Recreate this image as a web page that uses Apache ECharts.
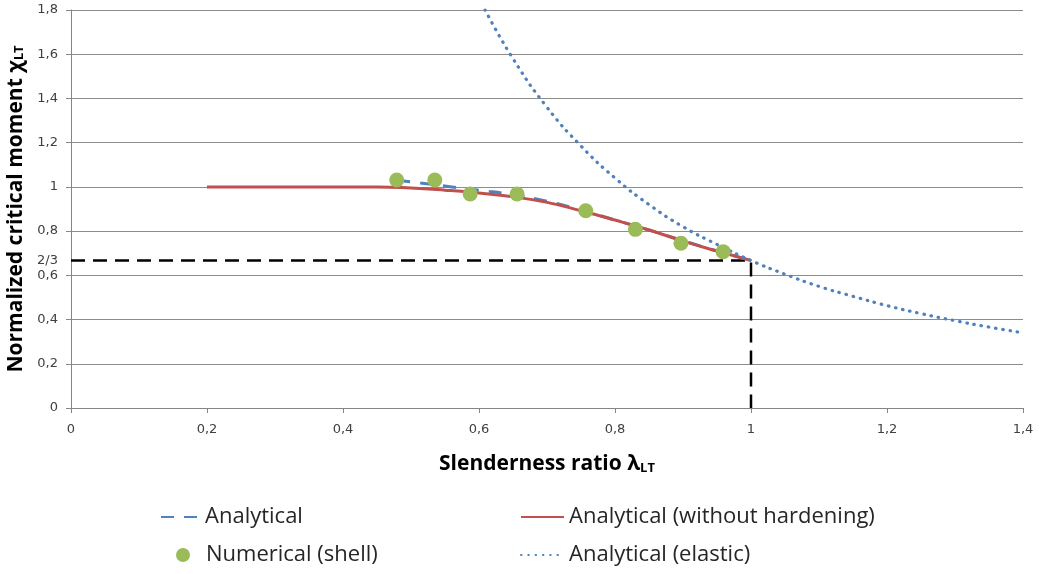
<!DOCTYPE html>
<html>
<head>
<meta charset="utf-8">
<script src="https://cdn.jsdelivr.net/npm/echarts@6/dist/echarts.min.js"></script>
<style>html,body{margin:0;padding:0;background:#fff}#c{width:1040px;height:574px}</style>
</head>
<body>
<div id="c"></div>
<script>
// ---- data ----
const xTicks = ['0', '0,2', '0,4', '0,6', '0,8', '1', '1,2', '1,4'];
const yTicks = ['0', '0,2', '0,4', '0,6', '0,8', '1', '1,2', '1,4', '1,6', '1,8'];
const yExtraLabel = {value: 0.6667, text: '2/3'};

const analytical = [[0.48,1.03],[0.52,1.015],[0.56,1.0],[0.6,0.985],[0.65,0.965],[0.7,0.935],[0.75,0.895],[0.8,0.85],[0.85,0.805],[0.9,0.757],[0.95,0.71],[1.0,0.667]];
const analyticalNoHardening = [[0.2,1.0],[0.3,1.0],[0.4,1.0],[0.45,1.0],[0.5,0.995],[0.55,0.985],[0.6,0.972],[0.65,0.955],[0.7,0.93],[0.75,0.892],[0.8,0.85],[0.85,0.805],[0.9,0.755],[0.95,0.71],[1.0,0.667]];
const numericalShell = [[0.479,1.031],[0.535,1.031],[0.587,0.968],[0.656,0.968],[0.757,0.892],[0.830,0.808],[0.897,0.745],[0.959,0.707]];
const analyticalElastic = [[0.609,1.8],[0.65,1.58],[0.7,1.36],[0.75,1.185],[0.8,1.04],[0.85,0.92],[0.9,0.82],[0.95,0.74],[1.0,0.667],[1.05,0.605],[1.1,0.55],[1.15,0.505],[1.2,0.463],[1.25,0.427],[1.3,0.395],[1.35,0.366],[1.4,0.34]];
const refLines = [[0,0.6667],[1,0.6667],[1,0]];

const chart = echarts.init(document.getElementById('c'));
const fmt = (arr) => (v) => {
  const i = Math.round(v / 0.2);
  if (Math.abs(v - yExtraLabel.value) < 0.01) return yExtraLabel.text;
  return arr[i] !== undefined ? arr[i] : '';
};
const lblColor = '#404040';
const axisColor = '#868686';
const font = 'DejaVu Sans, sans-serif';
const tfont = 'Open Sans, sans-serif';

const legendBase = {
  orient: 'horizontal',
  padding: 0,
  textStyle: {fontSize: 22, color: '#262626', fontFamily: tfont},
  itemHeight: 12,
  itemStyle: {opacity: 0},
  selectedMode: false
};

chart.setOption({
  animation: false,
  backgroundColor: '#fff',
  grid: {left: 71, right: 17, top: 10, bottom: 166, containLabel: false, outerBoundsMode: 'none'},
  xAxis: {
    type: 'value', min: 0, max: 1.4, interval: 0.2,
    name: '{a|Slenderness ratio λ}{b|LT}',
    nameLocation: 'middle', nameGap: 46,
    nameTextStyle: {
      rich: {
        a: {fontSize: 21, fontWeight: 'bold', color: '#000', fontFamily: tfont},
        b: {fontSize: 13, fontWeight: 'bold', color: '#000', fontFamily: tfont, padding: [7,0,0,0]}
      }
    },
    axisLine: {show: true, lineStyle: {color: axisColor, width: 1}},
    axisTick: {show: true, length: 5, lineStyle: {color: axisColor}},
    axisLabel: {color: lblColor, fontSize: 13, fontFamily: font, margin: 15, formatter: fmt(xTicks)},
    splitLine: {show: false}
  },
  yAxis: {
    type: 'value', min: 0, max: 1.8, interval: 0.2,
    name: '{a|Normalized critical moment χ}{b|LT}',
    nameLocation: 'middle', nameGap: 44, nameRotate: 90,
    nameTextStyle: {
      rich: {
        a: {fontSize: 21, fontWeight: 'bold', color: '#000', fontFamily: tfont},
        b: {fontSize: 13, fontWeight: 'bold', color: '#000', fontFamily: tfont, padding: [7,0,0,0]}
      }
    },
    axisLine: {show: true, lineStyle: {color: axisColor, width: 1}},
    axisTick: {show: true, length: 5, lineStyle: {color: axisColor}},
    axisLabel: {
      color: lblColor, fontSize: 13, fontFamily: font, margin: 13,
      customValues: [0,0.2,0.4,0.6,0.8,1.0,1.2,1.4,1.6,1.8,yExtraLabel.value],
      formatter: fmt(yTicks)
    },
    splitLine: {show: true, lineStyle: {color: '#8c8c8c', width: 1}}
  },
  legend: [
    Object.assign({}, legendBase, {data: ['Analytical'], left: 160, top: 506, itemWidth: 39}),
    Object.assign({}, legendBase, {data: ['Analytical (without hardening)'], left: 520, top: 506, itemWidth: 43}),
    Object.assign({}, legendBase, {data: [{name: 'Numerical (shell)', icon: 'circle'}], left: 176, top: 544, itemWidth: 14, itemHeight: 14, itemStyle: {opacity: 1}, textStyle: Object.assign({}, legendBase.textStyle, {padding: [0,0,0,11]})}),
    Object.assign({}, legendBase, {data: ['Analytical (elastic)'], left: 520, top: 544, itemWidth: 43})
  ],
  series: [
    {
      name: 'ref', type: 'line', data: refLines, symbol: 'none', silent: true,
      lineStyle: {color: '#000', width: 2.5, type: [14, 8]}, z: 1
    },
    {
      name: 'Analytical', type: 'line', data: analytical, symbol: 'none', smooth: true,
      lineStyle: {color: '#4f81bd', width: 3, type: [13, 10]}, itemStyle: {color: '#4f81bd'}, z: 2
    },
    {
      name: 'Analytical (without hardening)', type: 'line', data: analyticalNoHardening, symbol: 'none', smooth: true,
      lineStyle: {color: '#c0504d', width: 3}, itemStyle: {color: '#c0504d'}, z: 3
    },
    {
      name: 'Analytical (elastic)', type: 'line', data: analyticalElastic, symbol: 'none', smooth: true,
      lineStyle: {color: '#4f81bd', width: 3.2, type: [0.5, 6.8], cap: 'round'}, itemStyle: {color: '#4f81bd'}, z: 4
    },
    {
      name: 'Numerical (shell)', type: 'scatter', data: numericalShell, symbol: 'circle', symbolSize: 15,
      itemStyle: {color: '#9bbb59', opacity: 1}, z: 5
    }
  ]
});
</script>
</body>
</html>
